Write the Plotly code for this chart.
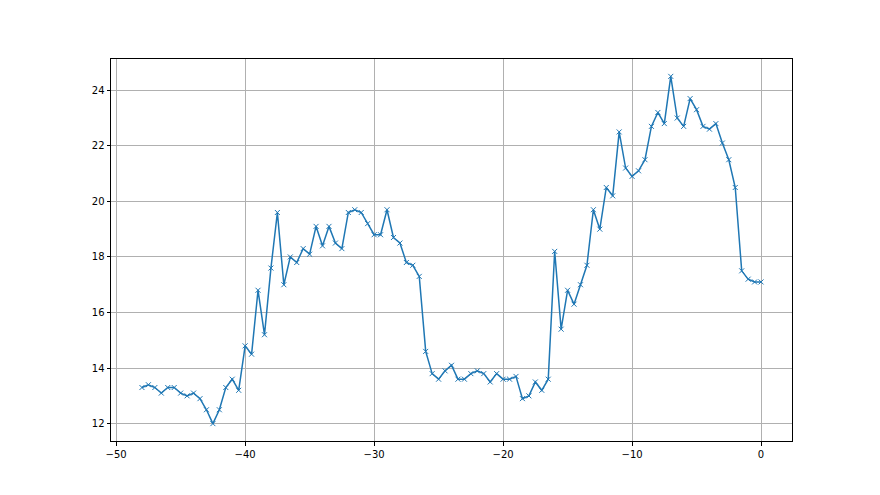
import numpy as np
import plotly.graph_objects as go

x_values = [i * 0.5 - 48 for i in range(97)]
y_values = [
    13.3, 13.4, 13.3, 13.1, 13.3, 13.3, 13.1, 13.0, 13.1, 12.9,
    12.5, 12.0, 12.5, 13.3, 13.6, 13.2, 14.8, 14.5, 16.8, 15.2,
    17.6, 19.6, 17.0, 18.0, 17.8, 18.3, 18.1, 19.1, 18.4, 19.1,
    18.5, 18.3, 19.6, 19.7, 19.6, 19.2, 18.8, 18.8, 19.7, 18.7,
    18.5, 17.8, 17.7, 17.3, 14.6, 13.8, 13.6, 13.9, 14.1, 13.6,
    13.6, 13.8, 13.9, 13.8, 13.5, 13.8, 13.6, 13.6, 13.7, 12.9,
    13.0, 13.5, 13.2, 13.6, 18.2, 15.4, 16.8, 16.3, 17.0, 17.7,
    19.7, 19.0, 20.5, 20.2, 22.5, 21.2, 20.9, 21.1, 21.5, 22.7,
    23.2, 22.8, 24.5, 23.0, 22.7, 23.7, 23.3, 22.7, 22.6, 22.8,
    22.1, 21.5, 20.5, 17.5, 17.2, 17.1, 17.1,
]
x_ticks = [-50, -40, -30, -20, -10, 0]
y_ticks = [12, 14, 16, 18, 20, 22, 24]

color = "#1f77b4"
fig = go.Figure(go.Scatter(
    x=x_values, y=y_values, mode="lines+markers",
    line=dict(color=color, width=1.5),
    marker=dict(symbol="x-thin", size=5, color=color,
                line=dict(color=color, width=1)),
    showlegend=False,
))

axis_common = dict(
    showgrid=True, gridcolor="#b0b0b0", gridwidth=0.8,
    showline=True, linecolor="black", linewidth=1, mirror=True,
    ticks="outside", ticklen=3.5, tickcolor="black", tickwidth=0.8,
    zeroline=False,
    tickfont=dict(family="DejaVu Sans", size=10, color="black"),
)

xmin, xmax = min(x_values), max(x_values)
ymin, ymax = min(y_values), max(y_values)
xpad = (xmax - xmin) * 0.05
ypad = (ymax - ymin) * 0.05

fig.update_xaxes(range=[xmin - xpad, xmax + xpad], tickvals=x_ticks, **axis_common)
fig.update_yaxes(range=[ymin - ypad, ymax + ypad], tickvals=y_ticks, **axis_common)

fig.update_layout(
    width=880, height=495,
    margin=dict(l=103, r=96, t=51, b=62),
    plot_bgcolor="white", paper_bgcolor="white",
)

fig.write_html("out.html")
